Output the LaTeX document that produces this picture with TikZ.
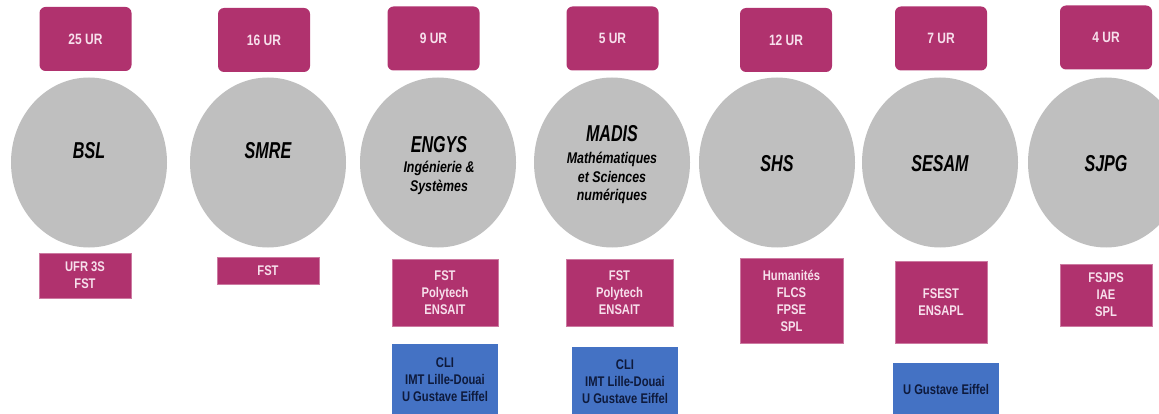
\documentclass[tikz,border=0pt]{standalone}
\usepackage{fontspec}
\setmainfont{Liberation Sans}[FakeStretch=0.8]
\newfontfamily\titlefont{Liberation Sans}[FakeStretch=0.7]
\usetikzlibrary{shapes.geometric}
\definecolor{urpink}{RGB}{176,50,110}
\definecolor{pinktext}{RGB}{247,224,236}
\definecolor{polegray}{RGB}{191,191,191}
\definecolor{extblue}{RGB}{68,114,196}
\definecolor{extnavy}{RGB}{14,26,60}

\begin{document}
\begin{tikzpicture}[x=1pt,y=-1pt,
	urbox/.style={fill=urpink,rounded corners=6pt,minimum width=92pt,minimum height=64pt,inner sep=0pt,text=pinktext,font=\fontsize{15}{17}\selectfont\bfseries},
	pole/.style={ellipse,fill=polegray,minimum width=156pt,minimum height=170pt,inner sep=0pt},
	poletitle/.style={anchor=base,font=\titlefont\fontsize{23}{25}\selectfont\bfseries\itshape},
	polesub/.style={align=center,font=\fontsize{15.5}{18.7}\selectfont\bfseries\itshape},
	facbox/.style={fill=urpink,draw=urpink!65!white,line width=.6pt,inner sep=0pt,align=center,text=pinktext,font=\fontsize{14}{17}\selectfont\bfseries},
	extbox/.style={fill=extblue,inner sep=0pt,align=center,text=extnavy,font=\fontsize{14}{17}\selectfont\bfseries}]
		\clip (0,0) rectangle (1159,414);
		% nombre d'unites de recherche
		\node[urbox] (urBSL) at (85.5,39){25 UR};
		\node[urbox] (urSMRE) at (264,40){16 UR};
		\node[urbox] (urENGYS) at (433.5,38.5){9 UR};
		\node[urbox] (urMADIS) at (612.5,38.5){5 UR};
		\node[urbox] (urSHS) at (786,40){12 UR};
		\node[urbox] (urSESAM) at (941,38.5){7 UR};
		\node[urbox] (urSJPG) at (1106,37.5){4 UR};
		% poles
		\node[pole] (BSL) at (89,162.5){};
		\node[pole] (SMRE) at (268,162.5){};
		\node[pole] (ENGYS) at (438,162.5){};
		\node[pole] (MADIS) at (612,162.5){};
		\node[pole] (SHS) at (777,162.5){};
		\node[pole] (SESAM) at (940,162.5){};
		\node[pole] (SJPG) at (1106,162.5){};
		\node[poletitle] (tBSL) at (89,159){BSL};
		\node[poletitle] (tSMRE) at (268,159){SMRE};
		\node[poletitle] (tENGYS) at (439,153){ENGYS};
		\node[polesub] (sENGYS) at (439,178){Ingénierie \&\\Systèmes};
		\node[poletitle] (tMADIS) at (612,142){MADIS};
		\node[polesub] (sMADIS) at (612,178){Mathématiques\\et Sciences\\numériques};
		\node[poletitle] (tSHS) at (777,172){SHS};
		\node[poletitle] (tSESAM) at (940,172){SESAM};
		\node[poletitle] (tSJPG) at (1106,172){SJPG};
		% composantes
		\node[facbox,minimum width=92pt,minimum height=45pt] (fBSL) at (85,275.5){UFR 3S\\FST};
		\node[facbox,minimum width=102pt,minimum height=27pt] (fSMRE) at (268,270.5){FST};
		\node[facbox,minimum width=106pt,minimum height=67pt] (fENGYS) at (445,292.5){FST\\Polytech\\ENSAIT};
		\node[facbox,minimum width=107pt,minimum height=67pt] (fMADIS) at (619.5,292.5){FST\\Polytech\\ENSAIT};
		\node[facbox,minimum width=103pt,minimum height=85pt] (fSHS) at (791.5,300.5){Humanités\\FLCS\\FPSE\\SPL};
		\node[facbox,minimum width=92pt,minimum height=82pt] (fSESAM) at (941,302){FSEST\\ENSAPL};
		\node[facbox,minimum width=92pt,minimum height=62pt] (fSJPG) at (1106,295){FSJPS\\IAE\\SPL};
		% etablissements partenaires
		\node[extbox,minimum width=106pt,minimum height=72pt] (eENGYS) at (445,380){CLI\\IMT Lille-Douai\\U Gustave Eiffel};
		\node[extbox,minimum width=106pt,minimum height=69pt] (eMADIS) at (625,381.5){CLI\\IMT Lille-Douai\\U Gustave Eiffel};
		\node[extbox,minimum width=106pt,minimum height=53pt] (eSESAM) at (946,389.5){U Gustave Eiffel};
	\end{tikzpicture}
\end{document}
